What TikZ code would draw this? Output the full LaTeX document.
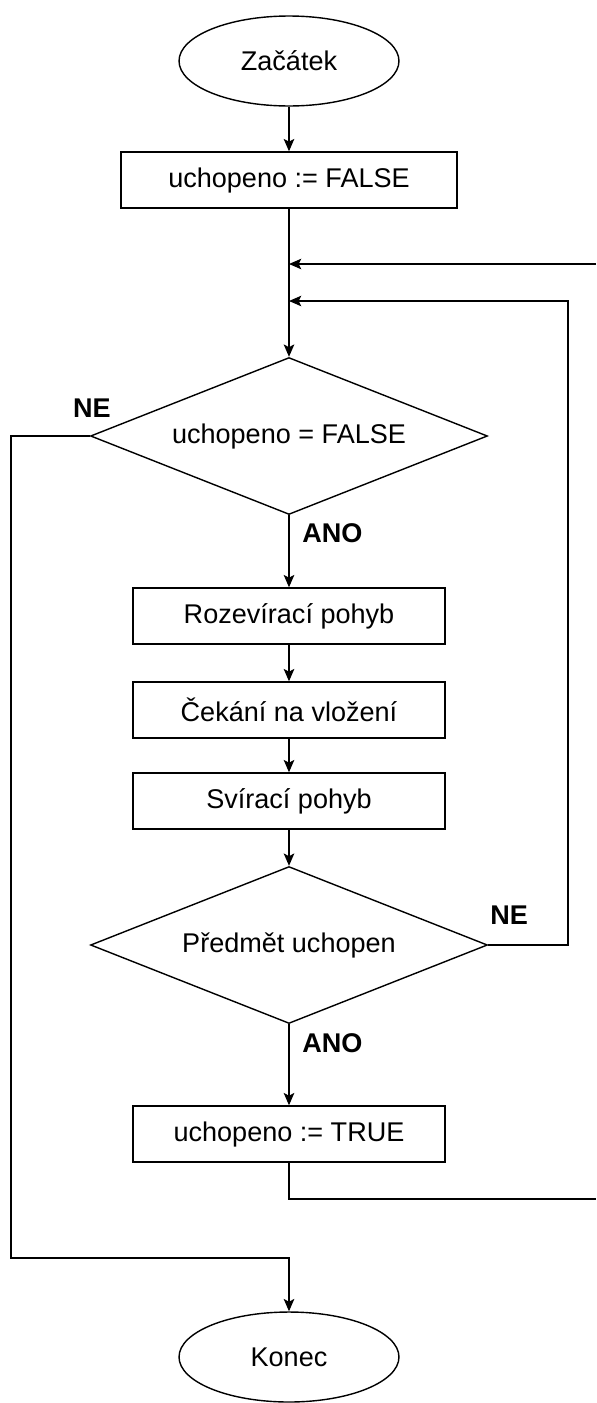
\documentclass[tikz,border=0pt]{standalone}
\usepackage{fontspec}
\setmainfont{Liberation Sans}
\usetikzlibrary{shapes.geometric, arrows.meta}

\begin{document}
\begin{tikzpicture}[x=0.02cm, y=-0.02cm,
  box/.style={draw, line width=0.8pt, minimum width=6.24cm, minimum height=1.12cm,
               inner sep=2pt, font=\fontsize{15.4}{18}\selectfont},
  term/.style={draw, ellipse, line width=0.8pt, minimum width=4.4cm, minimum height=1.8cm,
               inner sep=1pt, font=\fontsize{15.4}{18}\selectfont},
  dec/.style={draw, diamond, aspect=2.5, line width=0.8pt, minimum width=7.94cm,
               minimum height=3.14cm, inner sep=1pt, font=\fontsize{15.4}{18}\selectfont},
  lbl/.style={font=\bfseries\fontsize{15.4}{18}\selectfont, inner sep=0pt},
  arr/.style={-{Stealth[length=7pt,width=6pt,inset=1.5pt]}, line width=0.8pt},
  ln/.style={line width=0.8pt}
]
  \useasboundingbox (0,0) rectangle (596,1403);

  \node[term] (start) at (289,61)  {Začátek};
  \node[box, minimum width=6.72cm] (init) at (289,180) {uchopeno := FALSE};
  \node[dec]  (dec1)  at (289,436) {uchopeno = FALSE};
  \node[box]  (open)  at (289,616) {Rozevírací pohyb};
  \node[box]  (wait)  at (289,710) {Čekání na vložení};
  \node[box]  (close) at (289,801) {Svírací pohyb};
  \node[dec]  (dec2)  at (289,945) {Předmět uchopen};
  \node[box]  (true)  at (289,1134) {uchopeno := TRUE};
  \node[term] (stop)  at (289,1357) {Konec};

  \node[lbl] (ne1)  at (92,408) {NE};
  \node[lbl, anchor=west] (ano1) at (302,533) {ANO};
  \node[lbl, anchor=west] (ne2)  at (490,915) {NE};
  \node[lbl, anchor=west] (ano2) at (302,1043) {ANO};

  \coordinate (inA)  at (596,264);
  \coordinate (nR)   at (568,301);
  \coordinate (nL)   at (11,1258);
  \coordinate (outB) at (596,1199);

  \draw[arr] (start) -- (init);
  \draw[arr] (init) -- (dec1);
  \draw[arr] (inA) -- (init.south |- inA);
  \draw[arr] (dec2.east) -| (nR) -- (init.south |- nR);
  \draw[arr] (dec1) -- (open);
  \draw[arr] (open) -- (wait);
  \draw[arr] (wait) -- (close);
  \draw[arr] (close) -- (dec2);
  \draw[arr] (dec2) -- (true);
  \draw[ln]  (true.south) |- (outB);
  \draw[arr] (dec1.west) -| (nL) -| (stop.north);
\end{tikzpicture}
\end{document}
